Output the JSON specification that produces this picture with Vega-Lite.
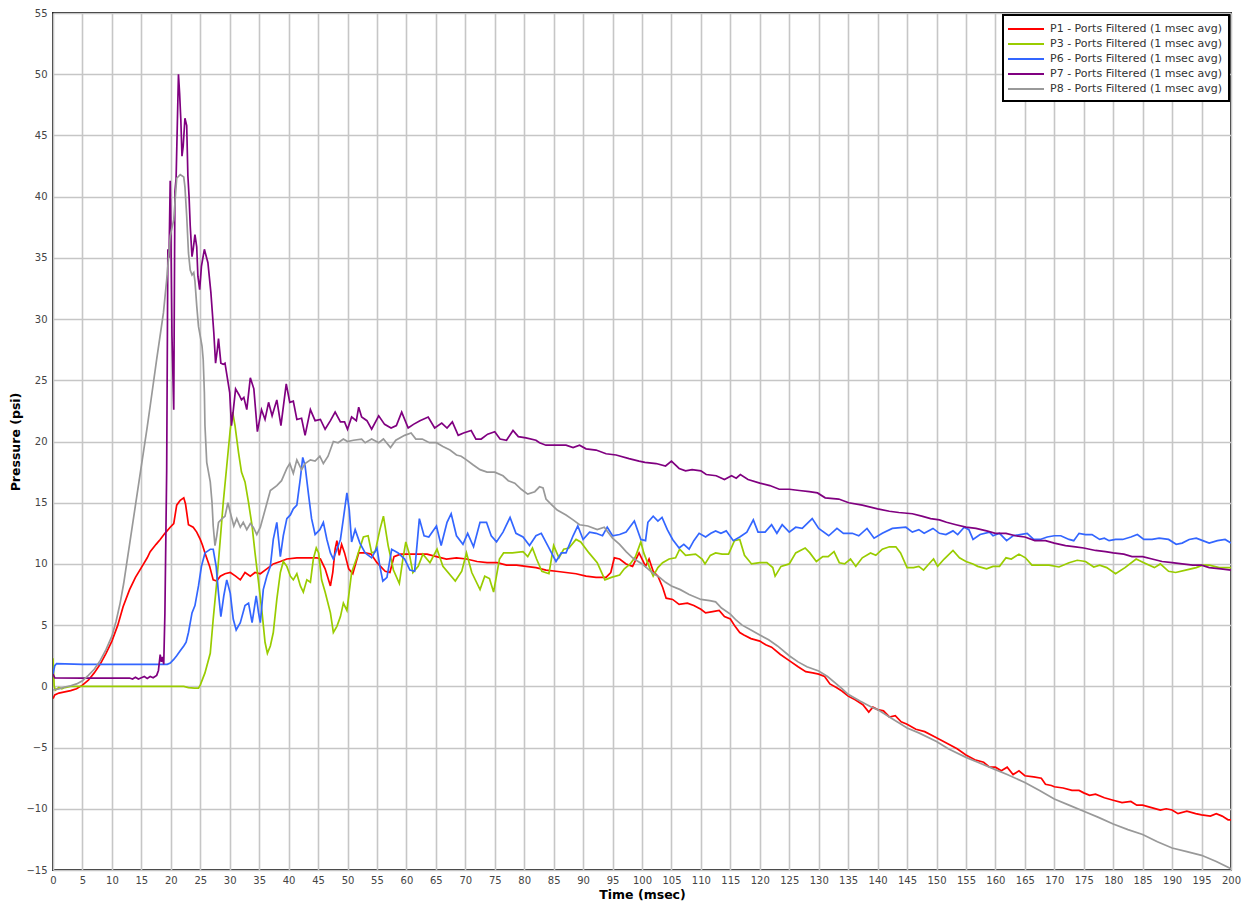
{
"$schema": "https://vega.github.io/schema/vega-lite/v6.json",
"width": 1178, "height": 857,
"autosize": {"type": "none"},
"padding": {"left": 53, "top": 13, "right": 16, "bottom": 41},
"background": "white",
"config": {
  "view": {"stroke": "#222222", "strokeWidth": 2},
  "axis": {"grid": true, "gridColor": "#c6c6c6", "gridWidth": 1.6, "ticks": false, "domain": false, "labelFont": "DejaVu Sans", "labelFontSize": 10, "labelColor": "#444444", "titleFont": "DejaVu Sans", "titleFontSize": 12.5, "titleFontWeight": "bold", "titleColor": "#000000"},
  "legend": {"labelFont": "DejaVu Sans", "labelFontSize": 11, "labelColor": "#333333", "labelLimit": 0}
},
"data": {"values": [
{"s":"P1","t":0,"v":-1.0},{"s":"P1","t":0.3,"v":-0.7},{"s":"P1","t":1,"v":-0.55},{"s":"P1","t":2,"v":-0.45},{"s":"P1","t":3,"v":-0.35},{"s":"P1","t":4,"v":-0.2},{"s":"P1","t":5,"v":0.1},{"s":"P1","t":6,"v":0.5},{"s":"P1","t":7,"v":1.1},{"s":"P1","t":8,"v":1.8},{"s":"P1","t":9,"v":2.7},{"s":"P1","t":10,"v":3.7},{"s":"P1","t":11,"v":5.0},{"s":"P1","t":11.9,"v":6.5},{"s":"P1","t":13,"v":7.9},{"s":"P1","t":14,"v":8.9},{"s":"P1","t":15,"v":9.7},{"s":"P1","t":16,"v":10.5},{"s":"P1","t":16.5,"v":11.0},{"s":"P1","t":17.5,"v":11.6},{"s":"P1","t":18.2,"v":12.0},{"s":"P1","t":19,"v":12.5},{"s":"P1","t":19.9,"v":13.0},{"s":"P1","t":20.5,"v":13.3},{"s":"P1","t":21,"v":14.8},{"s":"P1","t":21.6,"v":15.2},{"s":"P1","t":22.2,"v":15.4},{"s":"P1","t":22.5,"v":14.9},{"s":"P1","t":23,"v":13.2},{"s":"P1","t":23.8,"v":13.0},{"s":"P1","t":24.4,"v":12.6},{"s":"P1","t":25,"v":12.0},{"s":"P1","t":25.4,"v":11.5},{"s":"P1","t":25.8,"v":10.9},{"s":"P1","t":26.6,"v":9.8},{"s":"P1","t":27.2,"v":8.7},{"s":"P1","t":27.8,"v":8.6},{"s":"P1","t":28.4,"v":9.0},{"s":"P1","t":29.2,"v":9.2},{"s":"P1","t":30.1,"v":9.3},{"s":"P1","t":31,"v":9.0},{"s":"P1","t":31.8,"v":8.7},{"s":"P1","t":32.6,"v":9.3},{"s":"P1","t":33.5,"v":9.0},{"s":"P1","t":34.3,"v":9.3},{"s":"P1","t":35.2,"v":9.2},{"s":"P1","t":36.3,"v":9.6},{"s":"P1","t":37.4,"v":10.0},{"s":"P1","t":38.6,"v":10.2},{"s":"P1","t":39.7,"v":10.4},{"s":"P1","t":41.4,"v":10.5},{"s":"P1","t":43,"v":10.5},{"s":"P1","t":44.8,"v":10.5},{"s":"P1","t":45.4,"v":10.4},{"s":"P1","t":46.2,"v":9.6},{"s":"P1","t":47.1,"v":8.2},{"s":"P1","t":47.5,"v":9.3},{"s":"P1","t":47.9,"v":11.2},{"s":"P1","t":48.2,"v":11.9},{"s":"P1","t":48.6,"v":10.7},{"s":"P1","t":49,"v":11.6},{"s":"P1","t":49.5,"v":10.9},{"s":"P1","t":50.2,"v":9.6},{"s":"P1","t":50.9,"v":9.2},{"s":"P1","t":51.9,"v":10.9},{"s":"P1","t":53,"v":10.9},{"s":"P1","t":54,"v":10.8},{"s":"P1","t":55,"v":10.1},{"s":"P1","t":56.4,"v":9.4},{"s":"P1","t":57.2,"v":9.3},{"s":"P1","t":57.9,"v":10.6},{"s":"P1","t":59,"v":10.8},{"s":"P1","t":60,"v":10.8},{"s":"P1","t":62,"v":10.8},{"s":"P1","t":63.5,"v":10.8},{"s":"P1","t":65.1,"v":10.6},{"s":"P1","t":66.8,"v":10.4},{"s":"P1","t":68.5,"v":10.5},{"s":"P1","t":70.2,"v":10.4},{"s":"P1","t":72,"v":10.2},{"s":"P1","t":73.7,"v":10.1},{"s":"P1","t":75.4,"v":10.1},{"s":"P1","t":77,"v":9.9},{"s":"P1","t":78.7,"v":9.9},{"s":"P1","t":80.3,"v":9.8},{"s":"P1","t":82,"v":9.7},{"s":"P1","t":83.7,"v":9.5},{"s":"P1","t":85.4,"v":9.4},{"s":"P1","t":87.1,"v":9.3},{"s":"P1","t":88.8,"v":9.2},{"s":"P1","t":90.5,"v":9.0},{"s":"P1","t":92.2,"v":8.9},{"s":"P1","t":93.9,"v":8.9},{"s":"P1","t":94.7,"v":9.3},{"s":"P1","t":95.3,"v":10.5},{"s":"P1","t":96.2,"v":10.4},{"s":"P1","t":97.3,"v":10.0},{"s":"P1","t":98.4,"v":9.8},{"s":"P1","t":99.5,"v":10.9},{"s":"P1","t":100.2,"v":10.2},{"s":"P1","t":100.6,"v":9.8},{"s":"P1","t":101.2,"v":10.4},{"s":"P1","t":101.9,"v":9.4},{"s":"P1","t":102.7,"v":9.0},{"s":"P1","t":103.5,"v":8.1},{"s":"P1","t":104.1,"v":7.2},{"s":"P1","t":105.2,"v":7.1},{"s":"P1","t":106.3,"v":6.7},{"s":"P1","t":107.7,"v":6.8},{"s":"P1","t":108.8,"v":6.6},{"s":"P1","t":110,"v":6.3},{"s":"P1","t":110.8,"v":6.0},{"s":"P1","t":112,"v":6.1},{"s":"P1","t":113.1,"v":6.2},{"s":"P1","t":114,"v":5.7},{"s":"P1","t":115,"v":5.5},{"s":"P1","t":115.8,"v":4.9},{"s":"P1","t":116.6,"v":4.4},{"s":"P1","t":117.3,"v":4.2},{"s":"P1","t":118.5,"v":3.9},{"s":"P1","t":120,"v":3.7},{"s":"P1","t":121,"v":3.4},{"s":"P1","t":122,"v":3.2},{"s":"P1","t":123.5,"v":2.6},{"s":"P1","t":125,"v":2.1},{"s":"P1","t":126.5,"v":1.6},{"s":"P1","t":127.8,"v":1.2},{"s":"P1","t":129,"v":1.1},{"s":"P1","t":130,"v":1.0},{"s":"P1","t":131,"v":0.8},{"s":"P1","t":131.9,"v":0.2},{"s":"P1","t":133,"v":-0.1},{"s":"P1","t":134,"v":-0.4},{"s":"P1","t":135,"v":-0.8},{"s":"P1","t":136.2,"v":-1.1},{"s":"P1","t":137.5,"v":-1.5},{"s":"P1","t":138.5,"v":-2.1},{"s":"P1","t":139.2,"v":-1.7},{"s":"P1","t":140,"v":-1.9},{"s":"P1","t":141,"v":-2.0},{"s":"P1","t":142,"v":-2.5},{"s":"P1","t":143,"v":-2.4},{"s":"P1","t":144,"v":-2.9},{"s":"P1","t":145,"v":-3.1},{"s":"P1","t":146.5,"v":-3.5},{"s":"P1","t":148,"v":-3.7},{"s":"P1","t":150,"v":-4.2},{"s":"P1","t":152,"v":-4.7},{"s":"P1","t":153.5,"v":-5.1},{"s":"P1","t":155,"v":-5.6},{"s":"P1","t":156.5,"v":-6.0},{"s":"P1","t":158,"v":-6.2},{"s":"P1","t":159,"v":-6.6},{"s":"P1","t":160,"v":-6.6},{"s":"P1","t":161,"v":-6.9},{"s":"P1","t":162,"v":-6.6},{"s":"P1","t":163,"v":-7.2},{"s":"P1","t":164,"v":-6.9},{"s":"P1","t":165,"v":-7.3},{"s":"P1","t":166.5,"v":-7.4},{"s":"P1","t":167.8,"v":-7.5},{"s":"P1","t":168.5,"v":-8.0},{"s":"P1","t":169.5,"v":-8.1},{"s":"P1","t":170,"v":-8.2},{"s":"P1","t":171.5,"v":-8.3},{"s":"P1","t":173,"v":-8.5},{"s":"P1","t":174.2,"v":-8.5},{"s":"P1","t":175,"v":-8.7},{"s":"P1","t":176,"v":-8.9},{"s":"P1","t":177,"v":-8.8},{"s":"P1","t":178.5,"v":-9.1},{"s":"P1","t":180,"v":-9.3},{"s":"P1","t":181.5,"v":-9.5},{"s":"P1","t":183,"v":-9.4},{"s":"P1","t":184,"v":-9.7},{"s":"P1","t":185,"v":-9.7},{"s":"P1","t":186.5,"v":-9.9},{"s":"P1","t":188,"v":-10.1},{"s":"P1","t":189,"v":-10.0},{"s":"P1","t":190,"v":-10.1},{"s":"P1","t":191,"v":-10.4},{"s":"P1","t":192.5,"v":-10.2},{"s":"P1","t":194,"v":-10.4},{"s":"P1","t":195,"v":-10.5},{"s":"P1","t":196.5,"v":-10.6},{"s":"P1","t":197.5,"v":-10.4},{"s":"P1","t":198.5,"v":-10.6},{"s":"P1","t":199.5,"v":-10.9},{"s":"P1","t":200,"v":-10.9},
{"s":"P3","t":0,"v":2.3},{"s":"P3","t":0.2,"v":0.0},{"s":"P3","t":0.4,"v":-0.3},{"s":"P3","t":1,"v":-0.1},{"s":"P3","t":1.5,"v":-0.2},{"s":"P3","t":2,"v":-0.1},{"s":"P3","t":3,"v":0.0},{"s":"P3","t":10,"v":0.0},{"s":"P3","t":15,"v":0.0},{"s":"P3","t":20,"v":0.0},{"s":"P3","t":22.2,"v":0.0},{"s":"P3","t":23,"v":-0.1},{"s":"P3","t":24,"v":-0.15},{"s":"P3","t":24.7,"v":-0.15},{"s":"P3","t":25,"v":0.1},{"s":"P3","t":25.8,"v":1.1},{"s":"P3","t":26.7,"v":2.7},{"s":"P3","t":27.2,"v":5.5},{"s":"P3","t":27.8,"v":8.5},{"s":"P3","t":28.4,"v":12.0},{"s":"P3","t":28.9,"v":15.0},{"s":"P3","t":29.5,"v":18.0},{"s":"P3","t":30.1,"v":21.0},{"s":"P3","t":30.5,"v":22.4},{"s":"P3","t":30.9,"v":21.3},{"s":"P3","t":31.5,"v":19.1},{"s":"P3","t":32,"v":17.5},{"s":"P3","t":32.6,"v":16.7},{"s":"P3","t":33.2,"v":15.0},{"s":"P3","t":33.8,"v":13.1},{"s":"P3","t":34.3,"v":10.9},{"s":"P3","t":34.9,"v":8.5},{"s":"P3","t":35.5,"v":6.0},{"s":"P3","t":36,"v":3.6},{"s":"P3","t":36.4,"v":2.7},{"s":"P3","t":36.9,"v":3.3},{"s":"P3","t":37.4,"v":4.4},{"s":"P3","t":38,"v":7.1},{"s":"P3","t":38.6,"v":9.3},{"s":"P3","t":39.1,"v":10.2},{"s":"P3","t":39.7,"v":9.8},{"s":"P3","t":40.3,"v":9.0},{"s":"P3","t":40.8,"v":8.7},{"s":"P3","t":41.4,"v":9.2},{"s":"P3","t":42,"v":8.2},{"s":"P3","t":42.5,"v":7.7},{"s":"P3","t":43.1,"v":8.7},{"s":"P3","t":43.7,"v":8.5},{"s":"P3","t":44.2,"v":10.4},{"s":"P3","t":44.7,"v":11.3},{"s":"P3","t":45.1,"v":10.9},{"s":"P3","t":45.6,"v":8.7},{"s":"P3","t":46.2,"v":7.7},{"s":"P3","t":47.1,"v":6.0},{"s":"P3","t":47.6,"v":4.4},{"s":"P3","t":48.2,"v":4.9},{"s":"P3","t":48.8,"v":5.7},{"s":"P3","t":49.3,"v":6.8},{"s":"P3","t":49.9,"v":6.2},{"s":"P3","t":50.7,"v":9.3},{"s":"P3","t":51.5,"v":10.4},{"s":"P3","t":52.7,"v":12.2},{"s":"P3","t":53.5,"v":12.3},{"s":"P3","t":54.1,"v":10.9},{"s":"P3","t":54.7,"v":11.0},{"s":"P3","t":55.5,"v":12.8},{"s":"P3","t":56.1,"v":13.9},{"s":"P3","t":56.9,"v":11.5},{"s":"P3","t":57.8,"v":9.5},{"s":"P3","t":58.8,"v":8.4},{"s":"P3","t":59.4,"v":10.4},{"s":"P3","t":59.9,"v":11.8},{"s":"P3","t":60.5,"v":10.8},{"s":"P3","t":61.1,"v":9.3},{"s":"P3","t":62,"v":9.8},{"s":"P3","t":62.8,"v":10.8},{"s":"P3","t":64,"v":10.1},{"s":"P3","t":65.2,"v":11.2},{"s":"P3","t":66.2,"v":9.8},{"s":"P3","t":68.3,"v":8.6},{"s":"P3","t":69.4,"v":9.4},{"s":"P3","t":70.2,"v":10.9},{"s":"P3","t":71.1,"v":9.3},{"s":"P3","t":72.5,"v":7.9},{"s":"P3","t":73.3,"v":9.0},{"s":"P3","t":74.1,"v":8.8},{"s":"P3","t":74.8,"v":7.7},{"s":"P3","t":75.8,"v":10.4},{"s":"P3","t":76.5,"v":10.9},{"s":"P3","t":78,"v":10.9},{"s":"P3","t":79.8,"v":11.0},{"s":"P3","t":80.6,"v":10.6},{"s":"P3","t":81.4,"v":11.3},{"s":"P3","t":82.1,"v":10.4},{"s":"P3","t":83,"v":9.4},{"s":"P3","t":84.2,"v":9.2},{"s":"P3","t":85,"v":11.5},{"s":"P3","t":85.9,"v":10.5},{"s":"P3","t":86.7,"v":11.2},{"s":"P3","t":87.6,"v":11.3},{"s":"P3","t":88.8,"v":12.0},{"s":"P3","t":89.6,"v":11.8},{"s":"P3","t":91,"v":10.9},{"s":"P3","t":92.4,"v":10.1},{"s":"P3","t":93.7,"v":8.7},{"s":"P3","t":94.8,"v":8.9},{"s":"P3","t":96.2,"v":9.1},{"s":"P3","t":97,"v":9.6},{"s":"P3","t":98,"v":10.0},{"s":"P3","t":98.9,"v":10.6},{"s":"P3","t":99.8,"v":11.8},{"s":"P3","t":100.3,"v":10.9},{"s":"P3","t":101.2,"v":9.8},{"s":"P3","t":101.9,"v":9.0},{"s":"P3","t":102.7,"v":9.7},{"s":"P3","t":103.5,"v":10.1},{"s":"P3","t":104.6,"v":10.4},{"s":"P3","t":105.7,"v":10.5},{"s":"P3","t":106.4,"v":11.2},{"s":"P3","t":107.4,"v":10.7},{"s":"P3","t":109.1,"v":10.8},{"s":"P3","t":110.2,"v":10.4},{"s":"P3","t":110.7,"v":10.0},{"s":"P3","t":111.6,"v":10.7},{"s":"P3","t":112.5,"v":10.9},{"s":"P3","t":113.6,"v":10.8},{"s":"P3","t":114.7,"v":10.8},{"s":"P3","t":115.7,"v":11.9},{"s":"P3","t":116.6,"v":12.0},{"s":"P3","t":117.4,"v":10.7},{"s":"P3","t":118.6,"v":10.0},{"s":"P3","t":120,"v":10.1},{"s":"P3","t":121.2,"v":10.1},{"s":"P3","t":122.2,"v":9.7},{"s":"P3","t":122.6,"v":9.0},{"s":"P3","t":123.6,"v":9.8},{"s":"P3","t":125,"v":10.0},{"s":"P3","t":126.1,"v":10.9},{"s":"P3","t":127.7,"v":11.3},{"s":"P3","t":128.5,"v":10.9},{"s":"P3","t":129.6,"v":10.2},{"s":"P3","t":130.7,"v":10.6},{"s":"P3","t":131.6,"v":10.6},{"s":"P3","t":132.6,"v":11.0},{"s":"P3","t":133.5,"v":10.1},{"s":"P3","t":134.4,"v":10.0},{"s":"P3","t":135.4,"v":10.4},{"s":"P3","t":136.3,"v":9.8},{"s":"P3","t":137.4,"v":10.5},{"s":"P3","t":138.8,"v":10.9},{"s":"P3","t":139.7,"v":10.7},{"s":"P3","t":140.8,"v":11.2},{"s":"P3","t":142,"v":11.4},{"s":"P3","t":143.1,"v":11.4},{"s":"P3","t":143.9,"v":10.9},{"s":"P3","t":145,"v":9.7},{"s":"P3","t":146.1,"v":9.7},{"s":"P3","t":147,"v":9.8},{"s":"P3","t":147.8,"v":9.5},{"s":"P3","t":148.9,"v":10.1},{"s":"P3","t":149.5,"v":10.4},{"s":"P3","t":150.2,"v":9.8},{"s":"P3","t":151.3,"v":10.4},{"s":"P3","t":152.8,"v":11.1},{"s":"P3","t":153.9,"v":10.5},{"s":"P3","t":155,"v":10.2},{"s":"P3","t":156.2,"v":10.0},{"s":"P3","t":157,"v":9.8},{"s":"P3","t":158.5,"v":9.6},{"s":"P3","t":159.6,"v":9.8},{"s":"P3","t":160.7,"v":9.8},{"s":"P3","t":161.8,"v":10.5},{"s":"P3","t":162.7,"v":10.4},{"s":"P3","t":164,"v":10.8},{"s":"P3","t":165.1,"v":10.5},{"s":"P3","t":166.2,"v":9.9},{"s":"P3","t":167.4,"v":9.9},{"s":"P3","t":169.1,"v":9.9},{"s":"P3","t":170.8,"v":9.75},{"s":"P3","t":172.5,"v":10.1},{"s":"P3","t":173.9,"v":10.3},{"s":"P3","t":175.3,"v":10.2},{"s":"P3","t":176.7,"v":9.75},{"s":"P3","t":177.7,"v":9.9},{"s":"P3","t":178.9,"v":9.7},{"s":"P3","t":180.4,"v":9.2},{"s":"P3","t":182,"v":9.7},{"s":"P3","t":183.9,"v":10.4},{"s":"P3","t":185.2,"v":10.1},{"s":"P3","t":187,"v":9.7},{"s":"P3","t":188,"v":10.0},{"s":"P3","t":189.4,"v":9.4},{"s":"P3","t":190.6,"v":9.3},{"s":"P3","t":192.3,"v":9.5},{"s":"P3","t":194.1,"v":9.7},{"s":"P3","t":195.2,"v":9.9},{"s":"P3","t":196.3,"v":9.9},{"s":"P3","t":198,"v":9.7},{"s":"P3","t":200,"v":9.7},
{"s":"P6","t":0,"v":1.0},{"s":"P6","t":0.3,"v":1.7},{"s":"P6","t":0.6,"v":1.85},{"s":"P6","t":5,"v":1.8},{"s":"P6","t":10,"v":1.8},{"s":"P6","t":15,"v":1.8},{"s":"P6","t":19.4,"v":1.8},{"s":"P6","t":19.9,"v":1.9},{"s":"P6","t":20.5,"v":2.2},{"s":"P6","t":21,"v":2.5},{"s":"P6","t":21.6,"v":2.9},{"s":"P6","t":22.2,"v":3.3},{"s":"P6","t":22.6,"v":3.6},{"s":"P6","t":23,"v":4.4},{"s":"P6","t":23.6,"v":6.0},{"s":"P6","t":24.1,"v":6.6},{"s":"P6","t":24.7,"v":8.2},{"s":"P6","t":25.2,"v":9.8},{"s":"P6","t":25.8,"v":10.9},{"s":"P6","t":26.7,"v":11.2},{"s":"P6","t":27.2,"v":11.2},{"s":"P6","t":27.7,"v":9.8},{"s":"P6","t":28.1,"v":7.6},{"s":"P6","t":28.5,"v":5.7},{"s":"P6","t":29,"v":7.4},{"s":"P6","t":29.5,"v":8.7},{"s":"P6","t":30.1,"v":7.6},{"s":"P6","t":30.6,"v":5.5},{"s":"P6","t":31.1,"v":4.6},{"s":"P6","t":31.8,"v":5.2},{"s":"P6","t":32.6,"v":6.6},{"s":"P6","t":33.2,"v":6.8},{"s":"P6","t":33.8,"v":5.2},{"s":"P6","t":34.5,"v":7.4},{"s":"P6","t":34.9,"v":6.0},{"s":"P6","t":35.2,"v":5.2},{"s":"P6","t":35.7,"v":7.9},{"s":"P6","t":36.3,"v":9.0},{"s":"P6","t":36.9,"v":9.8},{"s":"P6","t":37.4,"v":12.0},{"s":"P6","t":38,"v":13.4},{"s":"P6","t":38.6,"v":10.6},{"s":"P6","t":39.1,"v":12.3},{"s":"P6","t":39.7,"v":13.7},{"s":"P6","t":40.3,"v":14.0},{"s":"P6","t":40.8,"v":14.5},{"s":"P6","t":41.4,"v":14.8},{"s":"P6","t":42,"v":17.0},{"s":"P6","t":42.4,"v":18.7},{"s":"P6","t":42.8,"v":18.0},{"s":"P6","t":43.4,"v":15.6},{"s":"P6","t":43.9,"v":13.7},{"s":"P6","t":44.5,"v":12.4},{"s":"P6","t":45.3,"v":12.8},{"s":"P6","t":45.9,"v":13.4},{"s":"P6","t":46.5,"v":12.0},{"s":"P6","t":47.1,"v":10.9},{"s":"P6","t":47.6,"v":10.4},{"s":"P6","t":48.2,"v":11.2},{"s":"P6","t":48.8,"v":12.0},{"s":"P6","t":49.3,"v":13.7},{"s":"P6","t":49.9,"v":15.8},{"s":"P6","t":50.3,"v":14.4},{"s":"P6","t":50.7,"v":11.8},{"s":"P6","t":51.3,"v":12.8},{"s":"P6","t":52.1,"v":11.7},{"s":"P6","t":53,"v":10.9},{"s":"P6","t":54.1,"v":10.5},{"s":"P6","t":55,"v":11.3},{"s":"P6","t":55.5,"v":9.8},{"s":"P6","t":56,"v":8.6},{"s":"P6","t":56.7,"v":8.9},{"s":"P6","t":57.5,"v":11.2},{"s":"P6","t":58.6,"v":10.9},{"s":"P6","t":59.7,"v":10.4},{"s":"P6","t":60.6,"v":9.5},{"s":"P6","t":61.4,"v":9.4},{"s":"P6","t":62.2,"v":13.7},{"s":"P6","t":63,"v":12.3},{"s":"P6","t":63.8,"v":12.2},{"s":"P6","t":65.1,"v":13.1},{"s":"P6","t":65.9,"v":11.5},{"s":"P6","t":66.9,"v":13.4},{"s":"P6","t":67.6,"v":14.1},{"s":"P6","t":68.5,"v":12.3},{"s":"P6","t":69.6,"v":11.6},{"s":"P6","t":70.4,"v":12.5},{"s":"P6","t":71.4,"v":11.4},{"s":"P6","t":72.5,"v":13.4},{"s":"P6","t":73.6,"v":13.4},{"s":"P6","t":74.4,"v":12.3},{"s":"P6","t":75.3,"v":11.8},{"s":"P6","t":76.4,"v":12.6},{"s":"P6","t":77.6,"v":13.8},{"s":"P6","t":78.6,"v":12.5},{"s":"P6","t":79.8,"v":12.2},{"s":"P6","t":80.9,"v":11.5},{"s":"P6","t":82,"v":12.3},{"s":"P6","t":82.9,"v":12.5},{"s":"P6","t":84,"v":11.5},{"s":"P6","t":85.4,"v":10.2},{"s":"P6","t":86.3,"v":10.9},{"s":"P6","t":87.1,"v":10.9},{"s":"P6","t":88.3,"v":12.3},{"s":"P6","t":89.1,"v":13.1},{"s":"P6","t":90,"v":12.0},{"s":"P6","t":91.1,"v":12.6},{"s":"P6","t":92.2,"v":12.5},{"s":"P6","t":93.3,"v":12.3},{"s":"P6","t":94.1,"v":13.0},{"s":"P6","t":95,"v":12.3},{"s":"P6","t":96.2,"v":12.4},{"s":"P6","t":97.3,"v":12.6},{"s":"P6","t":98.7,"v":13.5},{"s":"P6","t":99.8,"v":12.0},{"s":"P6","t":100.6,"v":11.9},{"s":"P6","t":101,"v":13.4},{"s":"P6","t":101.9,"v":13.9},{"s":"P6","t":102.7,"v":13.5},{"s":"P6","t":103.4,"v":13.8},{"s":"P6","t":104.3,"v":12.8},{"s":"P6","t":105.2,"v":12.0},{"s":"P6","t":106.3,"v":11.3},{"s":"P6","t":107.1,"v":11.6},{"s":"P6","t":108,"v":11.2},{"s":"P6","t":108.8,"v":11.9},{"s":"P6","t":109.7,"v":12.5},{"s":"P6","t":110.8,"v":12.2},{"s":"P6","t":111.7,"v":12.5},{"s":"P6","t":112.5,"v":12.7},{"s":"P6","t":113.4,"v":12.5},{"s":"P6","t":114.3,"v":12.7},{"s":"P6","t":115.5,"v":11.9},{"s":"P6","t":116.6,"v":12.2},{"s":"P6","t":117.8,"v":12.6},{"s":"P6","t":118.9,"v":13.6},{"s":"P6","t":119.7,"v":12.6},{"s":"P6","t":120.9,"v":12.6},{"s":"P6","t":122,"v":13.2},{"s":"P6","t":122.9,"v":12.5},{"s":"P6","t":123.8,"v":13.2},{"s":"P6","t":125,"v":12.6},{"s":"P6","t":126.1,"v":13.0},{"s":"P6","t":127.2,"v":12.9},{"s":"P6","t":128.9,"v":13.7},{"s":"P6","t":130,"v":12.9},{"s":"P6","t":131.7,"v":12.3},{"s":"P6","t":133.1,"v":12.9},{"s":"P6","t":134.2,"v":12.5},{"s":"P6","t":135.7,"v":12.5},{"s":"P6","t":136.8,"v":12.3},{"s":"P6","t":138.2,"v":12.9},{"s":"P6","t":139.4,"v":12.1},{"s":"P6","t":140.8,"v":12.5},{"s":"P6","t":142.5,"v":12.9},{"s":"P6","t":144.8,"v":13.0},{"s":"P6","t":145.9,"v":12.6},{"s":"P6","t":147,"v":12.8},{"s":"P6","t":147.9,"v":12.5},{"s":"P6","t":149.4,"v":12.9},{"s":"P6","t":150.5,"v":12.5},{"s":"P6","t":151.6,"v":12.4},{"s":"P6","t":152.8,"v":12.7},{"s":"P6","t":153.6,"v":12.4},{"s":"P6","t":154.7,"v":13.0},{"s":"P6","t":155.5,"v":12.8},{"s":"P6","t":156.2,"v":12.0},{"s":"P6","t":157.4,"v":12.4},{"s":"P6","t":159,"v":12.6},{"s":"P6","t":159.6,"v":12.3},{"s":"P6","t":160.7,"v":12.5},{"s":"P6","t":161.9,"v":11.9},{"s":"P6","t":163,"v":12.3},{"s":"P6","t":164.2,"v":12.4},{"s":"P6","t":165.4,"v":12.5},{"s":"P6","t":166.5,"v":12.0},{"s":"P6","t":167.6,"v":12.0},{"s":"P6","t":168.8,"v":12.2},{"s":"P6","t":170,"v":12.3},{"s":"P6","t":171.1,"v":12.3},{"s":"P6","t":172.5,"v":12.0},{"s":"P6","t":173.3,"v":11.9},{"s":"P6","t":174.2,"v":12.5},{"s":"P6","t":175.3,"v":12.4},{"s":"P6","t":176.4,"v":12.4},{"s":"P6","t":177.7,"v":12.0},{"s":"P6","t":178.5,"v":12.1},{"s":"P6","t":179.3,"v":11.9},{"s":"P6","t":180.4,"v":12.0},{"s":"P6","t":181.6,"v":12.0},{"s":"P6","t":183,"v":12.2},{"s":"P6","t":184.1,"v":12.4},{"s":"P6","t":185.2,"v":12.0},{"s":"P6","t":186.6,"v":12.0},{"s":"P6","t":187.8,"v":12.1},{"s":"P6","t":189.4,"v":12.0},{"s":"P6","t":190.7,"v":11.6},{"s":"P6","t":191.7,"v":11.7},{"s":"P6","t":192.9,"v":12.0},{"s":"P6","t":194.1,"v":12.1},{"s":"P6","t":195.2,"v":11.9},{"s":"P6","t":196.3,"v":11.7},{"s":"P6","t":197.7,"v":11.9},{"s":"P6","t":199,"v":12.0},{"s":"P6","t":200,"v":11.7},
{"s":"P7","t":0,"v":1.0},{"s":"P7","t":0.3,"v":0.7},{"s":"P7","t":5,"v":0.68},{"s":"P7","t":10,"v":0.68},{"s":"P7","t":13,"v":0.68},{"s":"P7","t":13.5,"v":0.6},{"s":"P7","t":14,"v":0.75},{"s":"P7","t":14.5,"v":0.6},{"s":"P7","t":15,"v":0.7},{"s":"P7","t":15.5,"v":0.8},{"s":"P7","t":16,"v":0.65},{"s":"P7","t":16.5,"v":0.8},{"s":"P7","t":17,"v":0.7},{"s":"P7","t":17.6,"v":0.9},{"s":"P7","t":17.9,"v":1.3},{"s":"P7","t":18.2,"v":2.6},{"s":"P7","t":18.4,"v":2.0},{"s":"P7","t":18.6,"v":2.4},{"s":"P7","t":18.8,"v":1.8},{"s":"P7","t":19.0,"v":6.0},{"s":"P7","t":19.3,"v":17.6},{"s":"P7","t":19.5,"v":35.7},{"s":"P7","t":19.7,"v":35.0},{"s":"P7","t":19.9,"v":41.3},{"s":"P7","t":20.0,"v":38.0},{"s":"P7","t":20.2,"v":28.6},{"s":"P7","t":20.5,"v":22.6},{"s":"P7","t":20.7,"v":40.4},{"s":"P7","t":20.9,"v":41.5},{"s":"P7","t":21.3,"v":50.0},{"s":"P7","t":21.5,"v":48.4},{"s":"P7","t":21.7,"v":46.3},{"s":"P7","t":21.9,"v":43.3},{"s":"P7","t":22.1,"v":44.1},{"s":"P7","t":22.4,"v":46.4},{"s":"P7","t":22.7,"v":45.8},{"s":"P7","t":22.9,"v":41.7},{"s":"P7","t":23.1,"v":40.0},{"s":"P7","t":23.3,"v":37.6},{"s":"P7","t":23.6,"v":35.1},{"s":"P7","t":23.8,"v":35.7},{"s":"P7","t":24.1,"v":36.9},{"s":"P7","t":24.4,"v":35.9},{"s":"P7","t":24.6,"v":33.5},{"s":"P7","t":24.9,"v":32.4},{"s":"P7","t":25.2,"v":34.3},{"s":"P7","t":25.7,"v":35.7},{"s":"P7","t":26.3,"v":34.6},{"s":"P7","t":26.8,"v":32.2},{"s":"P7","t":27.3,"v":28.9},{"s":"P7","t":27.6,"v":26.4},{"s":"P7","t":27.9,"v":27.5},{"s":"P7","t":28.1,"v":28.4},{"s":"P7","t":28.5,"v":26.4},{"s":"P7","t":28.9,"v":26.3},{"s":"P7","t":29.2,"v":26.4},{"s":"P7","t":30,"v":24.0},{"s":"P7","t":30.3,"v":21.3},{"s":"P7","t":30.6,"v":22.5},{"s":"P7","t":31,"v":24.3},{"s":"P7","t":31.6,"v":23.8},{"s":"P7","t":32,"v":23.4},{"s":"P7","t":32.4,"v":23.6},{"s":"P7","t":32.9,"v":22.6},{"s":"P7","t":33.5,"v":25.2},{"s":"P7","t":34.1,"v":24.3},{"s":"P7","t":34.7,"v":20.8},{"s":"P7","t":35.4,"v":22.6},{"s":"P7","t":36,"v":21.8},{"s":"P7","t":36.6,"v":23.2},{"s":"P7","t":37.2,"v":22.1},{"s":"P7","t":38,"v":23.4},{"s":"P7","t":38.7,"v":21.3},{"s":"P7","t":39.6,"v":24.7},{"s":"P7","t":40.2,"v":23.2},{"s":"P7","t":40.8,"v":23.3},{"s":"P7","t":41.4,"v":21.8},{"s":"P7","t":42.2,"v":21.9},{"s":"P7","t":42.8,"v":20.5},{"s":"P7","t":43.7,"v":22.6},{"s":"P7","t":44.5,"v":21.7},{"s":"P7","t":45.4,"v":21.8},{"s":"P7","t":46.2,"v":21.0},{"s":"P7","t":47.1,"v":21.7},{"s":"P7","t":47.9,"v":22.4},{"s":"P7","t":48.8,"v":21.6},{"s":"P7","t":49.5,"v":21.6},{"s":"P7","t":50,"v":21.0},{"s":"P7","t":50.7,"v":22.0},{"s":"P7","t":51.5,"v":21.7},{"s":"P7","t":51.9,"v":22.8},{"s":"P7","t":52.4,"v":22.0},{"s":"P7","t":53.3,"v":21.7},{"s":"P7","t":54.1,"v":21.0},{"s":"P7","t":55.3,"v":22.1},{"s":"P7","t":56.3,"v":21.4},{"s":"P7","t":57.4,"v":21.1},{"s":"P7","t":58.3,"v":21.3},{"s":"P7","t":59.2,"v":22.4},{"s":"P7","t":60.3,"v":21.1},{"s":"P7","t":61.2,"v":21.4},{"s":"P7","t":62.3,"v":21.7},{"s":"P7","t":63.7,"v":22.0},{"s":"P7","t":64.8,"v":21.1},{"s":"P7","t":66,"v":21.5},{"s":"P7","t":66.9,"v":21.1},{"s":"P7","t":67.8,"v":21.6},{"s":"P7","t":68.8,"v":20.5},{"s":"P7","t":69.7,"v":20.7},{"s":"P7","t":71,"v":20.9},{"s":"P7","t":71.8,"v":20.2},{"s":"P7","t":72.7,"v":20.2},{"s":"P7","t":73.8,"v":20.6},{"s":"P7","t":75,"v":20.8},{"s":"P7","t":75.9,"v":20.2},{"s":"P7","t":77,"v":20.1},{"s":"P7","t":78.1,"v":20.9},{"s":"P7","t":79,"v":20.4},{"s":"P7","t":80.3,"v":20.3},{"s":"P7","t":82,"v":20.1},{"s":"P7","t":82.6,"v":19.9},{"s":"P7","t":83.7,"v":19.7},{"s":"P7","t":85.5,"v":19.7},{"s":"P7","t":87.1,"v":19.7},{"s":"P7","t":88.3,"v":19.5},{"s":"P7","t":89.4,"v":19.7},{"s":"P7","t":90.5,"v":19.4},{"s":"P7","t":92.2,"v":19.3},{"s":"P7","t":93.9,"v":19.0},{"s":"P7","t":95.6,"v":18.9},{"s":"P7","t":97.8,"v":18.6},{"s":"P7","t":99.5,"v":18.4},{"s":"P7","t":100.5,"v":18.3},{"s":"P7","t":102.4,"v":18.2},{"s":"P7","t":104,"v":18.0},{"s":"P7","t":105,"v":18.4},{"s":"P7","t":106.3,"v":17.8},{"s":"P7","t":107.4,"v":17.6},{"s":"P7","t":108.5,"v":17.7},{"s":"P7","t":110,"v":17.6},{"s":"P7","t":110.9,"v":17.3},{"s":"P7","t":112.6,"v":17.2},{"s":"P7","t":114,"v":16.9},{"s":"P7","t":115.2,"v":17.2},{"s":"P7","t":116,"v":17.0},{"s":"P7","t":116.7,"v":17.3},{"s":"P7","t":118,"v":16.9},{"s":"P7","t":120,"v":16.6},{"s":"P7","t":121.7,"v":16.4},{"s":"P7","t":123.3,"v":16.1},{"s":"P7","t":125,"v":16.1},{"s":"P7","t":126.7,"v":16.0},{"s":"P7","t":128.4,"v":15.9},{"s":"P7","t":129.8,"v":15.8},{"s":"P7","t":131.1,"v":15.4},{"s":"P7","t":133.4,"v":15.3},{"s":"P7","t":135.1,"v":15.0},{"s":"P7","t":137.4,"v":14.8},{"s":"P7","t":140,"v":14.5},{"s":"P7","t":142,"v":14.3},{"s":"P7","t":143.6,"v":14.2},{"s":"P7","t":145.9,"v":14.1},{"s":"P7","t":147.5,"v":13.9},{"s":"P7","t":149,"v":13.7},{"s":"P7","t":150.5,"v":13.6},{"s":"P7","t":151.7,"v":13.4},{"s":"P7","t":153.3,"v":13.2},{"s":"P7","t":155,"v":13.0},{"s":"P7","t":156.7,"v":12.9},{"s":"P7","t":158.5,"v":12.7},{"s":"P7","t":160,"v":12.5},{"s":"P7","t":161.8,"v":12.5},{"s":"P7","t":163.4,"v":12.3},{"s":"P7","t":165,"v":12.2},{"s":"P7","t":166.7,"v":11.9},{"s":"P7","t":168.5,"v":11.9},{"s":"P7","t":170,"v":11.7},{"s":"P7","t":171.9,"v":11.5},{"s":"P7","t":173.6,"v":11.4},{"s":"P7","t":175,"v":11.3},{"s":"P7","t":177,"v":11.1},{"s":"P7","t":178.7,"v":11.0},{"s":"P7","t":180,"v":10.9},{"s":"P7","t":181.8,"v":10.8},{"s":"P7","t":183.2,"v":10.6},{"s":"P7","t":185,"v":10.6},{"s":"P7","t":186.6,"v":10.4},{"s":"P7","t":188.3,"v":10.2},{"s":"P7","t":190,"v":10.1},{"s":"P7","t":191.7,"v":10.0},{"s":"P7","t":193.5,"v":9.9},{"s":"P7","t":195,"v":9.9},{"s":"P7","t":196.3,"v":9.7},{"s":"P7","t":198.3,"v":9.6},{"s":"P7","t":200,"v":9.5},
{"s":"P8","t":0,"v":-0.3},{"s":"P8","t":1,"v":-0.2},{"s":"P8","t":2,"v":-0.05},{"s":"P8","t":3,"v":0.05},{"s":"P8","t":4,"v":0.2},{"s":"P8","t":5,"v":0.45},{"s":"P8","t":6,"v":0.9},{"s":"P8","t":7,"v":1.4},{"s":"P8","t":8,"v":2.1},{"s":"P8","t":9,"v":3.0},{"s":"P8","t":10,"v":4.1},{"s":"P8","t":10.7,"v":5.3},{"s":"P8","t":11.4,"v":6.8},{"s":"P8","t":12,"v":8.4},{"s":"P8","t":12.5,"v":10.0},{"s":"P8","t":13,"v":11.6},{"s":"P8","t":14,"v":14.8},{"s":"P8","t":15,"v":18.0},{"s":"P8","t":16,"v":21.2},{"s":"P8","t":16.5,"v":22.9},{"s":"P8","t":17.6,"v":26.7},{"s":"P8","t":18.75,"v":30.5},{"s":"P8","t":19.3,"v":33.2},{"s":"P8","t":19.6,"v":34.9},{"s":"P8","t":19.9,"v":36.8},{"s":"P8","t":20.5,"v":38.1},{"s":"P8","t":21,"v":41.5},{"s":"P8","t":21.6,"v":41.8},{"s":"P8","t":22.2,"v":41.6},{"s":"P8","t":22.4,"v":40.8},{"s":"P8","t":22.7,"v":38.4},{"s":"P8","t":23,"v":35.4},{"s":"P8","t":23.3,"v":34.0},{"s":"P8","t":23.6,"v":33.6},{"s":"P8","t":23.9,"v":33.8},{"s":"P8","t":24.1,"v":33.1},{"s":"P8","t":24.4,"v":31.1},{"s":"P8","t":24.7,"v":29.4},{"s":"P8","t":25,"v":28.6},{"s":"P8","t":25.3,"v":27.8},{"s":"P8","t":25.5,"v":26.7},{"s":"P8","t":25.7,"v":24.0},{"s":"P8","t":25.8,"v":21.3},{"s":"P8","t":26.1,"v":18.3},{"s":"P8","t":26.7,"v":16.7},{"s":"P8","t":27,"v":15.0},{"s":"P8","t":27.2,"v":13.1},{"s":"P8","t":27.5,"v":11.5},{"s":"P8","t":27.8,"v":12.3},{"s":"P8","t":28.1,"v":13.4},{"s":"P8","t":28.7,"v":13.7},{"s":"P8","t":29.2,"v":13.9},{"s":"P8","t":29.7,"v":15.0},{"s":"P8","t":30.1,"v":14.2},{"s":"P8","t":30.7,"v":13.1},{"s":"P8","t":31.2,"v":13.7},{"s":"P8","t":31.8,"v":13.0},{"s":"P8","t":32.3,"v":13.4},{"s":"P8","t":32.9,"v":12.8},{"s":"P8","t":33.5,"v":13.3},{"s":"P8","t":34,"v":13.0},{"s":"P8","t":34.6,"v":12.4},{"s":"P8","t":35.2,"v":13.0},{"s":"P8","t":36,"v":14.4},{"s":"P8","t":36.9,"v":16.0},{"s":"P8","t":38,"v":16.4},{"s":"P8","t":38.8,"v":16.8},{"s":"P8","t":39.7,"v":17.8},{"s":"P8","t":40.2,"v":18.2},{"s":"P8","t":40.8,"v":17.4},{"s":"P8","t":41.4,"v":18.5},{"s":"P8","t":42.2,"v":17.7},{"s":"P8","t":42.8,"v":18.2},{"s":"P8","t":43.7,"v":18.5},{"s":"P8","t":44.5,"v":18.4},{"s":"P8","t":45.3,"v":18.8},{"s":"P8","t":45.9,"v":18.2},{"s":"P8","t":46.7,"v":18.8},{"s":"P8","t":47.6,"v":20.0},{"s":"P8","t":48.4,"v":19.9},{"s":"P8","t":49.3,"v":20.2},{"s":"P8","t":50,"v":20.0},{"s":"P8","t":51,"v":20.1},{"s":"P8","t":52.4,"v":20.2},{"s":"P8","t":53,"v":19.9},{"s":"P8","t":54.1,"v":20.2},{"s":"P8","t":55.3,"v":19.9},{"s":"P8","t":56.1,"v":20.2},{"s":"P8","t":57.3,"v":19.5},{"s":"P8","t":58.2,"v":20.1},{"s":"P8","t":59.7,"v":20.5},{"s":"P8","t":60.8,"v":20.7},{"s":"P8","t":61.6,"v":20.2},{"s":"P8","t":62.7,"v":20.2},{"s":"P8","t":63.9,"v":19.9},{"s":"P8","t":65.1,"v":19.9},{"s":"P8","t":66.2,"v":19.6},{"s":"P8","t":67.4,"v":19.3},{"s":"P8","t":68.5,"v":18.9},{"s":"P8","t":69.3,"v":18.8},{"s":"P8","t":70.2,"v":18.5},{"s":"P8","t":71.3,"v":18.1},{"s":"P8","t":72.5,"v":17.7},{"s":"P8","t":73.7,"v":17.5},{"s":"P8","t":75,"v":17.5},{"s":"P8","t":76.4,"v":17.2},{"s":"P8","t":77.3,"v":16.8},{"s":"P8","t":78.4,"v":16.6},{"s":"P8","t":79.5,"v":16.1},{"s":"P8","t":80.6,"v":15.7},{"s":"P8","t":81.8,"v":15.9},{"s":"P8","t":82.6,"v":16.3},{"s":"P8","t":83.2,"v":16.2},{"s":"P8","t":83.7,"v":15.3},{"s":"P8","t":84.5,"v":14.9},{"s":"P8","t":85.6,"v":14.4},{"s":"P8","t":87.1,"v":14.0},{"s":"P8","t":88.3,"v":13.6},{"s":"P8","t":89.4,"v":13.2},{"s":"P8","t":90.8,"v":13.1},{"s":"P8","t":92.4,"v":12.8},{"s":"P8","t":93.6,"v":13.0},{"s":"P8","t":94.2,"v":12.6},{"s":"P8","t":95,"v":12.1},{"s":"P8","t":96.2,"v":11.6},{"s":"P8","t":97.3,"v":11.0},{"s":"P8","t":98.4,"v":10.5},{"s":"P8","t":100,"v":10.0},{"s":"P8","t":101,"v":9.6},{"s":"P8","t":102,"v":9.2},{"s":"P8","t":103,"v":8.9},{"s":"P8","t":104,"v":8.5},{"s":"P8","t":105,"v":8.2},{"s":"P8","t":106.5,"v":7.9},{"s":"P8","t":108,"v":7.5},{"s":"P8","t":110,"v":7.1},{"s":"P8","t":111.5,"v":7.0},{"s":"P8","t":112.5,"v":6.9},{"s":"P8","t":113.5,"v":6.4},{"s":"P8","t":115,"v":5.9},{"s":"P8","t":116,"v":5.4},{"s":"P8","t":117,"v":5.0},{"s":"P8","t":118.5,"v":4.6},{"s":"P8","t":120,"v":4.2},{"s":"P8","t":121.5,"v":3.8},{"s":"P8","t":123,"v":3.3},{"s":"P8","t":125,"v":2.5},{"s":"P8","t":126.5,"v":2.0},{"s":"P8","t":128,"v":1.6},{"s":"P8","t":130,"v":1.25},{"s":"P8","t":131.5,"v":0.8},{"s":"P8","t":133,"v":0.2},{"s":"P8","t":134,"v":-0.2},{"s":"P8","t":135,"v":-0.65},{"s":"P8","t":137,"v":-1.2},{"s":"P8","t":139,"v":-1.7},{"s":"P8","t":140,"v":-1.9},{"s":"P8","t":142,"v":-2.5},{"s":"P8","t":144,"v":-3.1},{"s":"P8","t":145,"v":-3.4},{"s":"P8","t":147,"v":-3.8},{"s":"P8","t":150,"v":-4.5},{"s":"P8","t":152,"v":-5.1},{"s":"P8","t":155,"v":-5.8},{"s":"P8","t":157,"v":-6.2},{"s":"P8","t":160,"v":-6.8},{"s":"P8","t":162,"v":-7.2},{"s":"P8","t":165,"v":-7.85},{"s":"P8","t":167.5,"v":-8.5},{"s":"P8","t":170,"v":-9.2},{"s":"P8","t":172.5,"v":-9.7},{"s":"P8","t":175,"v":-10.2},{"s":"P8","t":177.5,"v":-10.7},{"s":"P8","t":180,"v":-11.25},{"s":"P8","t":182.5,"v":-11.7},{"s":"P8","t":185,"v":-12.1},{"s":"P8","t":187.5,"v":-12.7},{"s":"P8","t":190,"v":-13.2},{"s":"P8","t":192.5,"v":-13.5},{"s":"P8","t":195,"v":-13.8},{"s":"P8","t":197.5,"v":-14.3},{"s":"P8","t":200,"v":-14.9}
]},
"mark": {"type": "line", "strokeWidth": 1.7, "clip": true},
"encoding": {
  "x": {"field": "t", "type": "quantitative", "title": "Time (msec)",
        "scale": {"domain": [0, 200], "nice": false, "zero": false},
        "axis": {"values": [0,5,10,15,20,25,30,35,40,45,50,55,60,65,70,75,80,85,90,95,100,105,110,115,120,125,130,135,140,145,150,155,160,165,170,175,180,185,190,195,200], "labelPadding": 5, "titlePadding": 3, "labelFlush": false, "labelOverlap": false}},
  "y": {"field": "v", "type": "quantitative", "title": "Pressure (psi)",
        "scale": {"domain": [-15, 55], "nice": false, "zero": false},
        "axis": {"values": [-15,-10,-5,0,5,10,15,20,25,30,35,40,45,50,55], "labelPadding": 6, "titlePadding": 3, "labelFlush": false, "labelOverlap": false}},
  "color": {"field": "s", "type": "nominal",
            "scale": {"domain": ["P1","P3","P6","P7","P8"], "range": ["#ff0000","#99cc00","#3366ff","#800080","#999999"]},
            "legend": {"title": null, "orient": "top-right", "offset": 2, "labelExpr": "datum.label + ' - Ports Filtered (1 msec avg)'",
                       "symbolType": "M-3,0H3", "symbolSize": 144, "symbolStrokeWidth": 2, "symbolOffset": 9, "fillColor": "white", "strokeColor": "#000000", "padding": 7, "rowPadding": 3, "labelOffset": 17,
                       "encode": {"legend": {"update": {"strokeWidth": {"value": 2}}}}}}
}
}
